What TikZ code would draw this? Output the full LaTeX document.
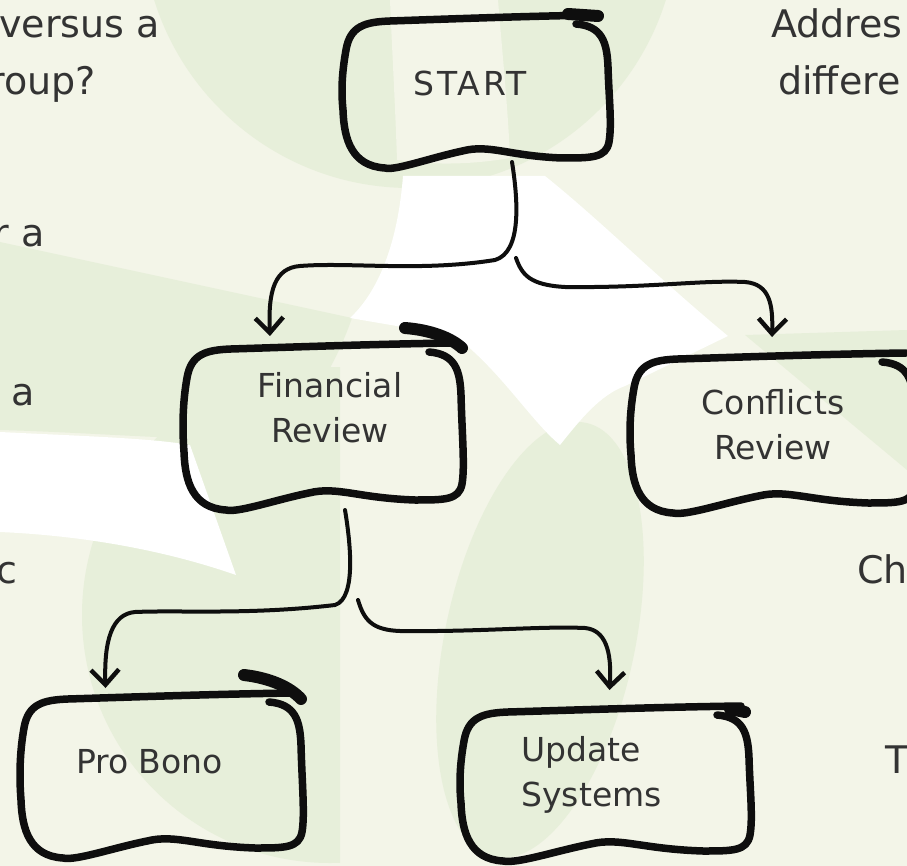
\documentclass[tikz,border=0pt]{standalone}
\usepackage{fontspec}
\setmainfont{DejaVu Sans}
\usetikzlibrary{arrows.meta,calc}

\definecolor{paper}{HTML}{F3F5E8}
\definecolor{leaf}{HTML}{E7EFDA}
\definecolor{ink}{HTML}{0E0E0E}
\definecolor{pencil}{HTML}{333333}

\tikzset{
  boxline/.style={draw=ink, line width=7.5pt, line cap=round, line join=round},
  blobline/.style={draw=ink, line width=12pt, line cap=round},
  conn/.style={draw=ink, line width=4pt, line cap=round,
    -{Straight Barb[length=15pt,width=28pt,line width=4.5pt]}},
  frame/.style={inner sep=0pt, outer sep=0pt, anchor=north west},
  boxtext/.style={text=pencil, font=\fontsize{33}{45}\selectfont, align=center, inner sep=0pt},
  sidetext/.style={text=pencil, font=\fontsize{38}{57}\selectfont, inner sep=0pt},
}

% hand-drawn rounded box around a frame node: #1 name, #2 width, #3 height, #4 brush blob
\newcommand{\handbox}[4]{%
  \begin{scope}[shift={(#1.north west)}]
    \draw[boxline] ({#2-36},12) .. controls ({#2-10},14) and ({#2-5},30) .. ({#2-4},55)
      .. controls ({#2-3},{#3*0.55}) and (#2,{#3-45}) .. ({#2-3},{#3-28})
      .. controls ({#2-6},{#3-12}) and ({#2-20},{#3-12}) .. ({#2-50},{#3-12})
      .. controls ({#2*0.62},{#3-14}) and ({#2*0.55},{#3-26}) .. ({#2*0.45},{#3-19})
      .. controls ({#2*0.33},{#3-12}) and ({#2*0.2},{#3+1}) .. (45,{#3-2})
      .. controls (12,{#3-4}) and (4,{#3-30}) .. (3,{#3-60})
      .. controls (1,{#3*0.5}) and (2,60) .. (6,38)
      .. controls (10,14) and (25,10) .. (50,9)
      .. controls ({#2*0.4},7) and ({#2*0.7},4) .. ({#2-12},3);
    \draw[blobline] #4;
  \end{scope}}

\begin{document}
\begin{tikzpicture}[x=1pt,y=-1pt]
\useasboundingbox (0,0) rectangle (907,866);
\clip (0,0) rectangle (907,866);

% ---- background wash ----
\fill[paper] (0,0) rectangle (907,866);
\fill[leaf] (410,-80) circle[radius=268];
\fill[paper] (390,0) -- (498,0) .. controls (503,60) and (508,110) .. (510,158)
  .. controls (470,165) and (430,165) .. (397,160) .. controls (395,100) and (392,50) .. (390,0) -- cycle;
\fill[leaf] (0,242) -- (352,318) .. controls (330,380) and (300,420) .. (260,440)
  .. controls (180,440) and (80,432) .. (0,430) -- cycle;
\begin{scope}
  \clip (0,0) rectangle (340,866);
  \fill[leaf] (330,615) circle[radius=248];
\end{scope}
\fill[leaf, rotate around={-12:(540,640)}] (540,640) ellipse[x radius=95, y radius=222];
\fill[leaf] (745,335) -- (907,330) -- (907,470) -- cycle;
\fill[white] (403,176) .. controls (398,240) and (380,290) .. (350,318) -- (455,336)
  .. controls (500,370) and (530,420) .. (560,445) .. controls (580,420) and (600,395) .. (625,386)
  -- (728,336) .. controls (660,280) and (600,220) .. (545,176) -- cycle;
\fill[white] (0,432) .. controls (80,436) and (150,438) .. (190,445) -- (236,575)
  .. controls (170,552) and (90,536) .. (0,532) -- cycle;

% ---- side notes running off the page ----
\node[sidetext, anchor=base east] (noteA) at (160,38) {versus a};
\node[sidetext, anchor=base east] (noteB) at (96,95) {roup?};
\node[sidetext, anchor=base east] (noteC) at (45,247) {r a};
\node[sidetext, anchor=base east] (noteD) at (35,405) {. a};
\node[sidetext, anchor=base east] (noteE) at (18,583) {c};
\node[sidetext, anchor=base west] (noteF) at (771,38) {Addres};
\node[sidetext, anchor=base west] (noteG) at (778,95) {differe};
\node[sidetext, anchor=base west] (noteH) at (857,583) {Ch};
\node[sidetext, anchor=base west] (noteI) at (885,773) {T};

% ---- boxes ----
\node[frame, minimum width=272, minimum height=158] (start) at (340,12) {};
\node[frame, minimum width=284, minimum height=172] (fin)   at (181,340) {};
\node[frame, minimum width=290, minimum height=165] (conf)  at (628,350) {};
\node[frame, minimum width=287, minimum height=170] (pro)   at (18,690) {};
\node[frame, minimum width=295, minimum height=160] (upd)   at (458,703) {};

\handbox{start}{272}{158}{(228,2) -- (258,4)}
\handbox{fin}{284}{172}{(224,-12) .. controls (250,-10) and (270,-2) .. (281,8)}
\handbox{conf}{290}{165}{(300,8) -- (301,8)}
\handbox{pro}{287}{170}{(226,-15) .. controls (252,-12) and (272,-3) .. (283,9)}
\handbox{upd}{295}{160}{(272,6) -- (287,9)}

\node[boxtext] (startT) at ($(start.center)+(-6,-8)$) {\addfontfeature{LetterSpace=9}START};
\node[boxtext] (finT)   at ($(fin.center)+(7,-18)$) {Financial\\Review};
\node[boxtext] (confT)  at ($(conf.center)+(0,-8)$) {Conflicts\\Review};
\node[boxtext] (proT)   at ($(pro.center)+(-12,-13)$) {Pro Bono};
\node[boxtext, align=left] (updT) at ($(upd.center)+(-14,-8)$) {Update\\Systems};

% ---- connectors ----
\draw[conn] ($(start.south)+(36,-8)$) .. controls (518,200) and (522,252) .. (495,260)
  .. controls (420,272) and (350,262) .. (300,266)
  .. controls (275,268) and (268,290) .. ($(fin.north)+(-53,-4)$);
\draw[conn] (516,258) .. controls (522,275) and (530,285) .. (565,287)
  .. controls (650,288) and (700,280) .. (745,282)
  .. controls (770,284) and (773,305) .. ($(conf.north)+(-1,-13)$);
\draw[conn] ($(fin.south)+(22,-2)$) .. controls (350,540) and (357,598) .. (335,605)
  .. controls (250,615) and (180,610) .. (135,612)
  .. controls (112,614) and (104,640) .. ($(pro.north)+(-56,-2)$);
\draw[conn] (358,600) .. controls (364,620) and (372,630) .. (400,631)
  .. controls (480,632) and (540,626) .. (585,628)
  .. controls (605,630) and (612,650) .. ($(upd.north)+(4,-13)$);
\end{tikzpicture}
\end{document}
